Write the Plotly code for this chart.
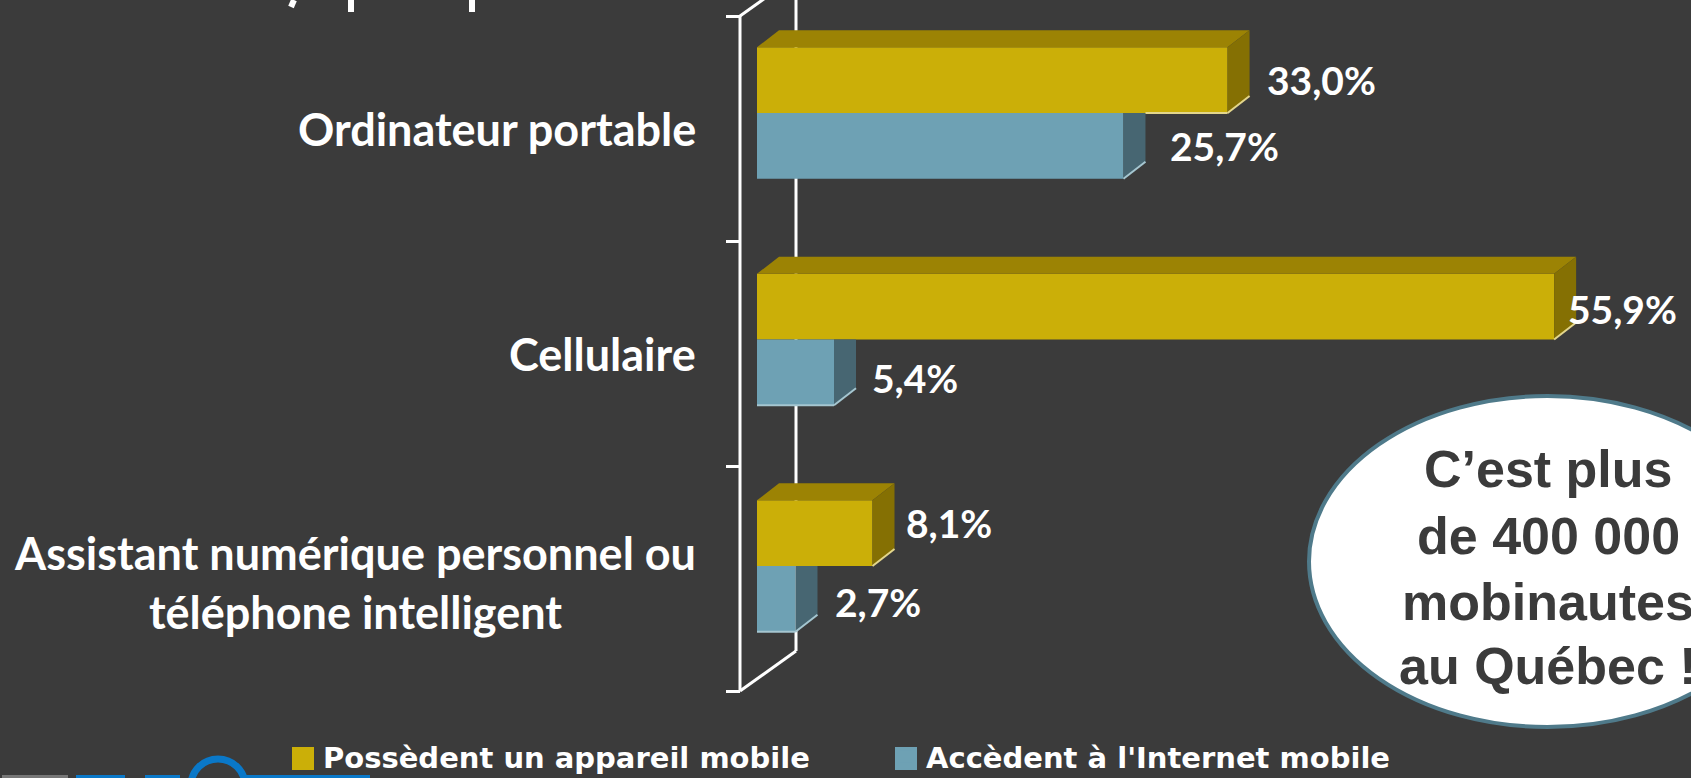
import plotly.graph_objects as go

W, H = 1691, 778
categories = ["Assistant numérique personnel ou<br>téléphone intelligent", "Cellulaire", "Ordinateur portable"]
possedent = [8.1, 55.9, 33.0]
accedent = [2.7, 5.4, 25.7]
series_names = ["Possèdent un appareil mobile", "Accèdent à l'Internet mobile"]
bubble_lines = ["C’est plus", "de 400 000", "mobinautes", "au Québec !"]

BG, WHITE = "#3B3B3B", "#FFFFFF"
YEL, YEL_TOP, YEL_SIDE, YEL_EDGE = "#CBAF08", "#9C8304", "#857003", "#E3D68C"
TEA, TEA_SIDE, TEA_EDGE = "#6EA1B4", "#476672", "#A5C6D0"

# scales (pixels per unit) and axis ranges
XS, YS = 14.26, 225.0
X0PX, Y0PX = 757.0, 691.0
xr = [-X0PX / XS, (W - X0PX) / XS]
yr = [(Y0PX - H) / YS, Y0PX / YS]
DX, DY = 22 / XS, 17 / YS
BW = 0.292
GROUP, STEP = 0.5556, 1.0067
ypos = [i * STEP + GROUP for i in range(3)]

def px(x): return x / W
def py(y): return 1 - y / H

fig = go.Figure()
fig.add_bar(y=[p + BW / 2 for p in ypos], x=possedent, orientation="h", width=BW, name=series_names[0],
            marker=dict(color=YEL, line_width=0))
fig.add_bar(y=[p - BW / 2 for p in ypos], x=accedent, orientation="h", width=BW, name=series_names[1],
            marker=dict(color=TEA, line_width=0))

def poly(xs, ys, color):
    fig.add_scatter(x=xs, y=ys, mode="lines", fill="toself", fillcolor=color, line=dict(width=0),
                    showlegend=False, hoverinfo="skip")

def edge(xs, ys, color):
    fig.add_scatter(x=xs, y=ys, mode="lines", line=dict(width=2, color=color),
                    showlegend=False, hoverinfo="skip")

for i, (p, a, b) in enumerate(zip(ypos, possedent, accedent)):
    # teal side (flat top, hidden by yellow above)
    poly([b, b + DX, b + DX, b], [p - BW, p - BW + DY, p, p], TEA_SIDE)
    edge([b, b + DX], [p - BW, p - BW + DY], TEA_EDGE)
    if i < 2:
        edge([0, b], [p - BW, p - BW], TEA_EDGE)
    # yellow top & side
    poly([0, a, a + DX, DX], [p + BW, p + BW, p + BW + DY, p + BW + DY], YEL_TOP)
    poly([a, a + DX, a + DX, a], [p, p + DY, p + BW + DY, p + BW], YEL_SIDE)
    edge([a, a + DX], [p, p + DY], YEL_EDGE)
    if i == 2:
        edge([b + DX, a], [p, p], YEL_EDGE)

fig.update_traces(cliponaxis=False, selector=dict(type="scatter"))

shapes = []
# 3-D wall lines, drawn under the bars
wx0 = (740 - X0PX) / XS
wx1 = (796 - X0PX) / XS
wy = 40 / YS
for x0, y0, x1, y1 in [(wx0, 0, wx0, 3), (wx0, 0, wx1, wy), (wx1, wy, wx1, 3 + wy), (wx0, 3, wx1, 3 + wy)]:
    shapes.append(dict(type="line", xref="x", yref="y", x0=x0, y0=y0, x1=x1, y1=y1, layer="below",
                       line=dict(color=WHITE, width=3)))

# bubble
shapes.append(dict(type="circle", xref="paper", yref="paper", x0=px(1309), x1=px(1786), y0=py(727), y1=py(396),
                   fillcolor=WHITE, line=dict(color="#4F7A8A", width=4), layer="above"))

# larger legend swatches behind the legend keys
for x0, x1, c in [(292, 314, YEL), (895, 917, TEA)]:
    shapes.append(dict(type="rect", xref="paper", yref="paper", x0=px(x0), x1=px(x1), y0=py(770), y1=py(747),
                       fillcolor=c, line_width=0, layer="above"))

# cropped fragments at the window's edges (text above, logo below)
for x0, y0, x1, y1 in [(294, 0, 291, 7), (351, 0, 351, 12), (472, 0, 472, 12)]:
    shapes.append(dict(type="line", xref="paper", yref="paper", x0=px(x0), x1=px(x1), y0=py(y0), y1=py(y1),
                       line=dict(color=WHITE, width=6)))
shapes.append(dict(type="circle", xref="paper", yref="paper", x0=px(191), x1=px(245), y0=py(812), y1=py(759),
                   line=dict(color="#0A78C8", width=7)))
for x0, x1, c in [(2, 68, "#777777"), (76, 125, "#0A78C8"), (145, 180, "#0A78C8"), (245, 370, "#0A78C8")]:
    shapes.append(dict(type="rect", xref="paper", yref="paper", x0=px(x0), x1=px(x1), y0=py(778), y1=py(775),
                       fillcolor=c, line_width=0))

ann = []
CAT_FONT = dict(family="Lato", size=45, color=WHITE, weight=700)
for lab, yc in zip(categories, [582, 354, 129]):
    ann.append(dict(text=lab, xref="paper", yref="paper", x=px(698), y=py(yc), xanchor="right", yanchor="middle",
                    align="center", showarrow=False, font=CAT_FONT))

# value labels: offset in pixels from the bar's end and from the bar's centre
lab_off = {0: [(31, -10), (37, 3)], 1: [(12, 2), (36, 6)], 2: [(37, 0), (45, 0)]}
for i in range(3):
    for (val, yc), (ox, oy) in zip([(possedent[i], ypos[i] + BW / 2), (accedent[i], ypos[i] - BW / 2)], lab_off[i]):
        ann.append(dict(text=f"{val:.1f}%".replace(".", ","), x=val, y=yc, xref="x", yref="y", xanchor="left",
                        yanchor="middle", xshift=ox, yshift=-oy, showarrow=False,
                        font=dict(family="Lato", size=39, color=WHITE, weight=700)))

for line, yc in zip(bubble_lines, [469, 536, 602, 666]):
    ann.append(dict(text=line, xref="paper", yref="paper", x=px(1548), y=py(yc), xanchor="center", yanchor="middle",
                    showarrow=False, font=dict(family="Liberation Sans", size=52, color=BG, weight=700)))

fig.update_layout(
    width=W, height=H, autosize=False, margin=dict(l=0, r=0, t=0, b=0, autoexpand=False),
    paper_bgcolor=BG, plot_bgcolor=BG, barmode="overlay", shapes=shapes, annotations=ann,
    xaxis=dict(range=xr, domain=[0, 1], visible=False, fixedrange=True),
    yaxis=dict(range=yr, domain=[0, 1], anchor="free", position=px(740), showgrid=False, zeroline=False,
               showline=False, tickvals=[0, 1, 2, 3], ticks="outside", ticklen=14, tickwidth=3, tickcolor=WHITE,
               showticklabels=False, fixedrange=True),
    legend=dict(orientation="h", x=px(283), y=py(757), xanchor="left", yanchor="middle",
                bgcolor="rgba(0,0,0,0)", entrywidth=558, entrywidthmode="pixels", traceorder="normal",
                font=dict(family="DejaVu Sans", size=29, color=WHITE, weight=700)),
)
fig.write_html("out.html", config=dict(displayModeBar=False),
               post_script="document.body.style.margin='0';document.body.style.overflow='hidden';document.documentElement.style.background='#3B3B3B';")
